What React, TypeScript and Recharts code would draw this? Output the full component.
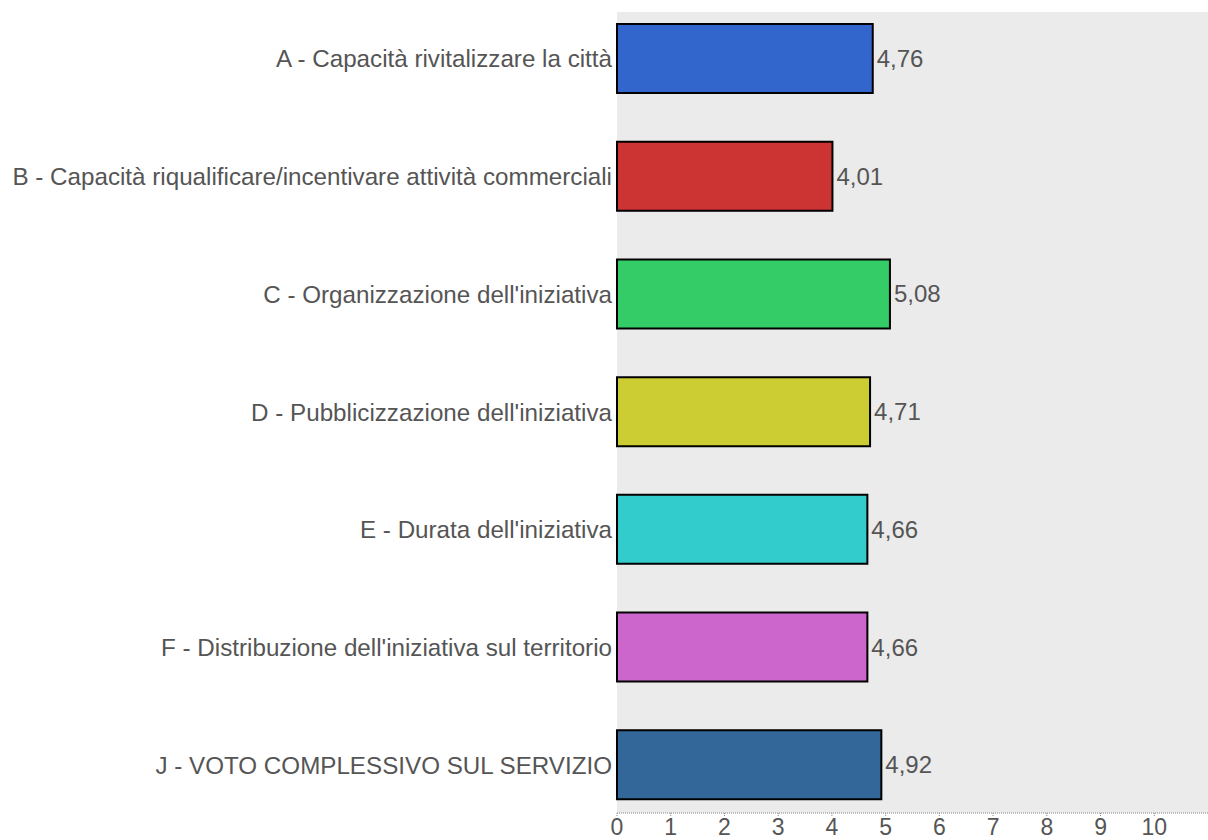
import { BarChart, Bar, XAxis, YAxis, CartesianGrid, Cell, LabelList } from 'recharts';

const categories = [
  'A - Capacità rivitalizzare la città',
  'B - Capacità riqualificare/incentivare attività commerciali',
  "C - Organizzazione dell'iniziativa",
  "D - Pubblicizzazione dell'iniziativa",
  "E - Durata dell'iniziativa",
  "F - Distribuzione dell'iniziativa sul territorio",
  'J - VOTO COMPLESSIVO SUL SERVIZIO',
];
const scores = [4.76, 4.01, 5.08, 4.71, 4.66, 4.66, 4.92];
const barColors = ['#3366CC', '#CC3333', '#33CC66', '#CCCC33', '#33CCCC', '#CC66CC', '#336699'];
const xTicks = [0, 1, 2, 3, 4, 5, 6, 7, 8, 9, 10];

const data = categories.map((name, i) => ({ name, score: scores[i] }));

const font = '"Liberation Sans", Arial, sans-serif';

export default function App() {
  return (
    <div style={{ position: 'absolute', left: 0, top: 0, width: 1208, height: 840, background: '#fff', fontFamily: font }}>
      <BarChart
        width={1208}
        height={840}
        data={data}
        layout="vertical"
        margin={{ top: 12, right: 0, bottom: 0, left: 0 }}
      >
        <CartesianGrid fill="#EBEBEB" stroke="none" horizontal={false} vertical={false} />
        <XAxis
          type="number"
          domain={[0, 11]}
          ticks={xTicks}
          height={27}
          tickSize={3}
          tickMargin={3}
          stroke="#888"
          strokeDasharray="1 1"
          tick={{ fill: '#555', fontSize: 23, fontFamily: font }}
        />
        <YAxis
          type="category"
          dataKey="name"
          width={617}
          axisLine={false}
          tickLine={false}
          tickSize={0}
          tickMargin={5}
          padding={{ top: -12, bottom: -11 }}
          tick={{ fill: '#555', fontSize: 24.2, fontFamily: font }}
          interval={0}
        />
        <Bar dataKey="score" barSize={69} stroke="#000" strokeWidth={2} isAnimationActive={false}>
          {data.map((_, i) => (
            <Cell key={i} fill={barColors[i]} />
          ))}
          <LabelList
            dataKey="score"
            position="right"
            offset={4}
            formatter={(v: number) => v.toFixed(2).replace('.', ',')}
            style={{ fill: '#555', fontSize: 24, fontFamily: font }}
          />
        </Bar>
      </BarChart>
    </div>
  );
}
